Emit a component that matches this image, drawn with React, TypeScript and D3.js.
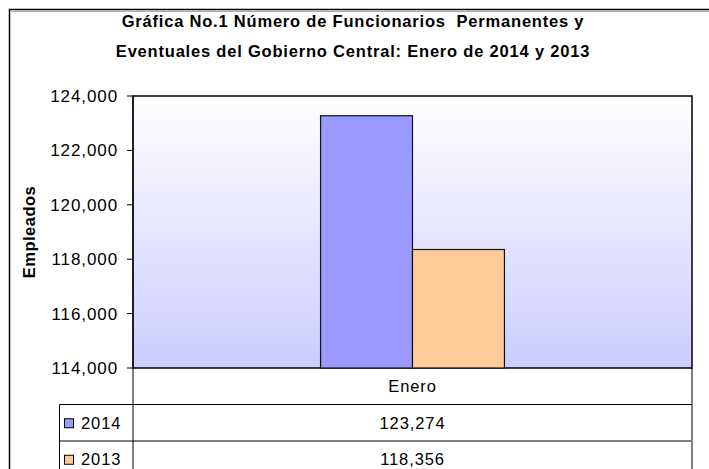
import React from "react";
import * as d3 from "d3";

const categories = ["Enero"];
const seriesNames = ["2014", "2013"];
const seriesValues = [[123274], [118356]];
const seriesColors = ["#9999FF", "#FFCC99"];
const yTicks = [114000, 116000, 118000, 120000, 122000, 124000];
const titleLines = [
  "Gráfica No.1 Número de Funcionarios  Permanentes y",
  "Eventuales del Gobierno Central: Enero de 2014 y 2013",
];
const yAxisTitle = "Empleados";

const W = 709;
const H = 469;
const plot = { left: 133, right: 692, top: 96, bottom: 368 };
const rowH = 36.5;
const legendLeft = 59.5;
const font = "'Liberation Sans', Arial, sans-serif";
const fs = 16.5;
const ls = 0.9;

export default function App() {
  const y = d3.scaleLinear().domain([114000, 124000]).range([plot.bottom, plot.top]);
  const x = d3.scaleBand().domain(categories).range([plot.left, plot.right]).paddingInner(0).paddingOuter(1.02);
  const xs = d3.scaleBand().domain(seriesNames).range([0, x.bandwidth()]);
  const fmt = d3.format(",");

  const tableTop = plot.bottom;
  const rowsY = [tableTop, tableTop + rowH, tableTop + 2 * rowH, tableTop + 3 * rowH];

  return (
    <svg width={W} height={H} style={{ position: "absolute", left: 0, top: 0, background: "#fff" }} fontFamily={font}>
      <defs>
        <linearGradient id="bg" x1="0" y1="0" x2="0" y2="1">
          <stop offset="0" stopColor="#FFFFFF" />
          <stop offset="1" stopColor="#CCCCFF" />
        </linearGradient>
      </defs>
      <rect x={0} y={0} width={W} height={H} fill="#fff" />
      {/* outer frame */}
      <rect x={9.5} y={9.5} width={W + 20} height={H + 20} fill="none" stroke="#000" strokeWidth={1.5} />
      <line x1={11} y1={11.5} x2={W} y2={11.5} stroke="#aaa" strokeWidth={1} />
      {/* title */}
      {titleLines.map((t, i) => (
        <text key={i} x={353} y={27 + i * 30} textAnchor="middle" fontSize={16.5} letterSpacing={0.8} fontWeight="bold" fill="#000" style={{ whiteSpace: "pre" }}>
          {t}
        </text>
      ))}
      {/* plot area */}
      <rect x={plot.left} y={plot.top} width={plot.right - plot.left} height={plot.bottom - plot.top} fill="url(#bg)" stroke="#000" strokeWidth={1.5} />
      {/* bars */}
      {seriesNames.map((s, si) =>
        categories.map((c, ci) => {
          const v = seriesValues[si][ci];
          const bx = (x(c) as number) + (xs(s) as number);
          return (
            <rect key={s + c} x={bx} y={y(v)} width={xs.bandwidth()} height={plot.bottom - y(v)} fill={seriesColors[si]} stroke="#111" strokeWidth={1.2} />
          );
        })
      )}
      {/* y axis */}
      <line x1={plot.left} y1={plot.top} x2={plot.left} y2={plot.bottom} stroke="#000" strokeWidth={1} />
      {yTicks.map((t) => (
        <g key={t}>
          <line x1={plot.left - 6} x2={plot.left} y1={y(t)} y2={y(t)} stroke="#000" />
          <text x={118} y={y(t) + 6} textAnchor="end" fontSize={17} letterSpacing={ls} fill="#000">
            {fmt(t)}
          </text>
        </g>
      ))}
      <text transform={`translate(35,${(plot.top + plot.bottom) / 2}) rotate(-90)`} textAnchor="middle" fontSize={16.5} letterSpacing={0.5} fontWeight="bold" fill="#000">
        {yAxisTitle}
      </text>
      {/* data table */}
      <line x1={plot.left} y1={plot.bottom} x2={plot.left} y2={H} stroke="#000" />
      <line x1={plot.right} y1={plot.bottom} x2={plot.right} y2={H} stroke="#000" />
      <line x1={legendLeft} y1={rowsY[1]} x2={plot.right} y2={rowsY[1]} stroke="#000" />
      <line x1={legendLeft} y1={rowsY[2]} x2={plot.right - 1} y2={rowsY[2]} stroke="#000" />
      <line x1={legendLeft} y1={rowsY[1]} x2={legendLeft} y2={H} stroke="#000" />
      {categories.map((c) => (
        <text key={c} x={(x(c) as number) + x.bandwidth() / 2} y={rowsY[0] + rowH / 2 + 6} textAnchor="middle" fontSize={fs} letterSpacing={ls} fill="#000">
          {c}
        </text>
      ))}
      {seriesNames.map((s, si) => (
        <g key={s}>
          <rect x={64.5} y={rowsY[si + 1] + rowH / 2 - 4} width={9} height={9} fill={seriesColors[si]} stroke="#000" strokeWidth={1} />
          <text x={81} y={rowsY[si + 1] + rowH / 2 + 6} fontSize={fs} letterSpacing={ls} fill="#000">
            {s}
          </text>
          {categories.map((c, ci) => (
            <text key={c} x={(x(c) as number) + x.bandwidth() / 2} y={rowsY[si + 1] + rowH / 2 + 6} textAnchor="middle" fontSize={fs} letterSpacing={ls} fill="#000">
              {fmt(seriesValues[si][ci])}
            </text>
          ))}
        </g>
      ))}
    </svg>
  );
}
